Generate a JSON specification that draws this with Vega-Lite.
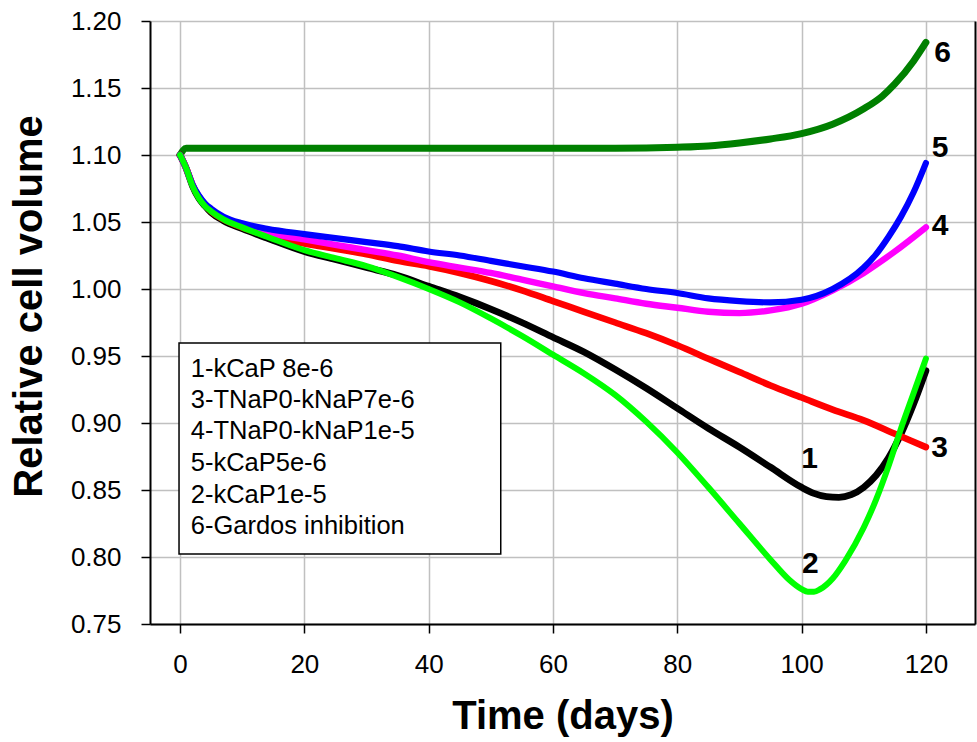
{
  "$schema": "https://vega.github.io/schema/vega-lite/v6.json",
  "width": 825,
  "height": 603,
  "autosize": {"type": "none"},
  "padding": {"left": 150, "top": 21, "right": 2, "bottom": 118},
  "background": "white",
  "config": {
    "view": {"stroke": null},
    "font": "Liberation Sans",
    "axis": {
      "labelFont": "Liberation Sans",
      "titleFont": "Liberation Sans",
      "labelColor": "#000",
      "titleColor": "#000",
      "labelFontSize": 26,
      "titleFontSize": 40,
      "titleFontWeight": "bold",
      "gridColor": "#c0c0c0",
      "gridWidth": 1.5,
      "domainColor": "#000",
      "domainWidth": 2,
      "tickColor": "#000",
      "tickWidth": 1.5,
      "tickSize": 9,
      "labelOverlap": false,
      "labelFlush": false
    }
  },
  "datasets": {
    "curves": [
      {"curve":"6","t":0,"v":1.100},{"curve":"6","t":1,"v":1.105},{"curve":"6","t":5,"v":1.105},{"curve":"6","t":20,"v":1.105},{"curve":"6","t":40,"v":1.105},{"curve":"6","t":60,"v":1.105},{"curve":"6","t":70,"v":1.105},{"curve":"6","t":80,"v":1.1058},{"curve":"6","t":85,"v":1.1068},{"curve":"6","t":90,"v":1.109},{"curve":"6","t":95,"v":1.112},{"curve":"6","t":100,"v":1.116},{"curve":"6","t":105,"v":1.123},{"curve":"6","t":110,"v":1.1345},{"curve":"6","t":113,"v":1.144},{"curve":"6","t":115,"v":1.153},{"curve":"6","t":118,"v":1.170},{"curve":"6","t":120,"v":1.184},

      {"curve":"1","t":0,"v":1.100},{"curve":"1","t":1,"v":1.090},{"curve":"1","t":2,"v":1.077},{"curve":"1","t":3,"v":1.068},{"curve":"1","t":4,"v":1.062},{"curve":"1","t":5,"v":1.057},{"curve":"1","t":7,"v":1.051},{"curve":"1","t":10,"v":1.045},{"curve":"1","t":14,"v":1.038},{"curve":"1","t":20,"v":1.028},{"curve":"1","t":25,"v":1.022},{"curve":"1","t":30,"v":1.016},{"curve":"1","t":35,"v":1.010},{"curve":"1","t":40,"v":1.002},{"curve":"1","t":45,"v":0.994},{"curve":"1","t":50,"v":0.985},{"curve":"1","t":55,"v":0.975},{"curve":"1","t":60,"v":0.964},{"curve":"1","t":65,"v":0.953},{"curve":"1","t":70,"v":0.940},{"curve":"1","t":75,"v":0.926},{"curve":"1","t":80,"v":0.911},{"curve":"1","t":85,"v":0.896},{"curve":"1","t":90,"v":0.882},{"curve":"1","t":95,"v":0.867},{"curve":"1","t":100,"v":0.852},{"curve":"1","t":102,"v":0.8475},{"curve":"1","t":104,"v":0.845},{"curve":"1","t":106,"v":0.8445},{"curve":"1","t":108,"v":0.8465},{"curve":"1","t":110,"v":0.852},{"curve":"1","t":112,"v":0.861},{"curve":"1","t":114,"v":0.874},{"curve":"1","t":116,"v":0.892},{"curve":"1","t":118,"v":0.914},{"curve":"1","t":120,"v":0.939},

      {"curve":"3","t":0,"v":1.100},{"curve":"3","t":1,"v":1.090},{"curve":"3","t":2,"v":1.078},{"curve":"3","t":3,"v":1.069},{"curve":"3","t":4,"v":1.063},{"curve":"3","t":5,"v":1.058},{"curve":"3","t":7,"v":1.052},{"curve":"3","t":10,"v":1.046},{"curve":"3","t":14,"v":1.040},{"curve":"3","t":20,"v":1.034},{"curve":"3","t":25,"v":1.030},{"curve":"3","t":30,"v":1.026},{"curve":"3","t":35,"v":1.021},{"curve":"3","t":40,"v":1.017},{"curve":"3","t":45,"v":1.012},{"curve":"3","t":50,"v":1.006},{"curve":"3","t":55,"v":0.999},{"curve":"3","t":60,"v":0.991},{"curve":"3","t":65,"v":0.983},{"curve":"3","t":70,"v":0.975},{"curve":"3","t":75,"v":0.967},{"curve":"3","t":80,"v":0.958},{"curve":"3","t":85,"v":0.948},{"curve":"3","t":90,"v":0.938},{"curve":"3","t":95,"v":0.928},{"curve":"3","t":100,"v":0.919},{"curve":"3","t":105,"v":0.910},{"curve":"3","t":110,"v":0.902},{"curve":"3","t":115,"v":0.892},{"curve":"3","t":120,"v":0.882},

      {"curve":"4","t":0,"v":1.100},{"curve":"4","t":1,"v":1.090},{"curve":"4","t":2,"v":1.078},{"curve":"4","t":3,"v":1.069},{"curve":"4","t":4,"v":1.063},{"curve":"4","t":5,"v":1.059},{"curve":"4","t":7,"v":1.053},{"curve":"4","t":10,"v":1.047},{"curve":"4","t":14,"v":1.042},{"curve":"4","t":20,"v":1.037},{"curve":"4","t":25,"v":1.033},{"curve":"4","t":30,"v":1.029},{"curve":"4","t":35,"v":1.025},{"curve":"4","t":40,"v":1.020},{"curve":"4","t":45,"v":1.016},{"curve":"4","t":50,"v":1.012},{"curve":"4","t":55,"v":1.007},{"curve":"4","t":60,"v":1.002},{"curve":"4","t":65,"v":0.997},{"curve":"4","t":70,"v":0.993},{"curve":"4","t":75,"v":0.989},{"curve":"4","t":80,"v":0.986},{"curve":"4","t":85,"v":0.983},{"curve":"4","t":90,"v":0.982},{"curve":"4","t":95,"v":0.984},{"curve":"4","t":100,"v":0.989},{"curve":"4","t":105,"v":0.999},{"curve":"4","t":110,"v":1.012},{"curve":"4","t":115,"v":1.028},{"curve":"4","t":120,"v":1.046},

      {"curve":"5","t":0,"v":1.100},{"curve":"5","t":1,"v":1.090},{"curve":"5","t":2,"v":1.078},{"curve":"5","t":3,"v":1.070},{"curve":"5","t":4,"v":1.064},{"curve":"5","t":5,"v":1.060},{"curve":"5","t":7,"v":1.054},{"curve":"5","t":10,"v":1.049},{"curve":"5","t":14,"v":1.045},{"curve":"5","t":20,"v":1.041},{"curve":"5","t":25,"v":1.038},{"curve":"5","t":30,"v":1.035},{"curve":"5","t":35,"v":1.032},{"curve":"5","t":40,"v":1.028},{"curve":"5","t":45,"v":1.025},{"curve":"5","t":50,"v":1.021},{"curve":"5","t":55,"v":1.017},{"curve":"5","t":60,"v":1.013},{"curve":"5","t":65,"v":1.008},{"curve":"5","t":70,"v":1.004},{"curve":"5","t":75,"v":1.000},{"curve":"5","t":80,"v":0.997},{"curve":"5","t":85,"v":0.993},{"curve":"5","t":90,"v":0.991},{"curve":"5","t":95,"v":0.990},{"curve":"5","t":100,"v":0.992},{"curve":"5","t":105,"v":1.000},{"curve":"5","t":110,"v":1.016},{"curve":"5","t":112,"v":1.026},{"curve":"5","t":114,"v":1.039},{"curve":"5","t":116,"v":1.054},{"curve":"5","t":118,"v":1.072},{"curve":"5","t":120,"v":1.094},

      {"curve":"2","t":0,"v":1.100},{"curve":"2","t":1,"v":1.090},{"curve":"2","t":2,"v":1.077},{"curve":"2","t":3,"v":1.068},{"curve":"2","t":4,"v":1.062},{"curve":"2","t":5,"v":1.058},{"curve":"2","t":7,"v":1.052},{"curve":"2","t":10,"v":1.046},{"curve":"2","t":14,"v":1.039},{"curve":"2","t":20,"v":1.029},{"curve":"2","t":25,"v":1.023},{"curve":"2","t":30,"v":1.017},{"curve":"2","t":35,"v":1.009},{"curve":"2","t":40,"v":1.000},{"curve":"2","t":45,"v":0.990},{"curve":"2","t":50,"v":0.978},{"curve":"2","t":55,"v":0.965},{"curve":"2","t":60,"v":0.951},{"curve":"2","t":65,"v":0.937},{"curve":"2","t":70,"v":0.921},{"curve":"2","t":75,"v":0.901},{"curve":"2","t":80,"v":0.878},{"curve":"2","t":85,"v":0.852},{"curve":"2","t":90,"v":0.825},{"curve":"2","t":95,"v":0.798},{"curve":"2","t":98,"v":0.783},{"curve":"2","t":100,"v":0.776},{"curve":"2","t":101,"v":0.774},{"curve":"2","t":102,"v":0.774},{"curve":"2","t":103,"v":0.776},{"curve":"2","t":105,"v":0.784},{"curve":"2","t":107,"v":0.797},{"curve":"2","t":110,"v":0.822},{"curve":"2","t":112,"v":0.843},{"curve":"2","t":114,"v":0.868},{"curve":"2","t":116,"v":0.896},{"curve":"2","t":118,"v":0.922},{"curve":"2","t":120,"v":0.948}
    ],
    "curveLabels": [
      {"label":"1","t":101.3,"v":0.8664},
      {"label":"2","t":101.4,"v":0.788},
      {"label":"3","t":122.2,"v":0.8746},
      {"label":"4","t":122.3,"v":1.0403},
      {"label":"5","t":122.3,"v":1.0985},
      {"label":"6","t":122.7,"v":1.1694}
    ],
    "legendBox": [
      {"t1":-0.16,"t2":51.6,"v1":0.8022,"v2":0.9597}
    ],
    "legendText": [
      {"text":"1-kCaP 8e-6","t":1.72,"v":0.9346},
      {"text":"3-TNaP0-kNaP7e-6","t":1.72,"v":0.9110},
      {"text":"4-TNaP0-kNaP1e-5","t":1.72,"v":0.8878},
      {"text":"5-kCaP5e-6","t":1.72,"v":0.8640},
      {"text":"2-kCaP1e-5","t":1.72,"v":0.8405},
      {"text":"6-Gardos inhibition","t":1.72,"v":0.8172}
    ]
  },
  "resolve": {"axis": {"y": "independent"}},
  "layer": [
    {
      "data": {"name": "curves"},
      "mark": {"type": "line", "interpolate": "monotone", "strokeCap": "round", "strokeJoin": "round"},
      "encoding": {
        "x": {
          "field": "t", "type": "quantitative",
          "scale": {"domain": [-4.83, 127.9], "nice": false, "zero": false},
          "axis": {"values": [0, 20, 40, 60, 80, 100, 120], "grid": true, "labelPadding": 18, "title": "Time (days)", "titleBaseline": "alphabetic", "titleY": 104}
        },
        "y": {
          "field": "v", "type": "quantitative",
          "scale": {"domain": [0.75, 1.2], "nice": false, "zero": false},
          "axis": {
            "orient": "left",
            "values": [0.75, 0.8, 0.85, 0.9, 0.95, 1.0, 1.05, 1.1, 1.15, 1.2],
            "format": ".2f",
            "grid": true,
            "labelPadding": 20,
            "title": "Relative cell volume",
            "titleAngle": 270,
            "titleAlign": "center",
            "titleBaseline": "alphabetic",
            "titleX": -109,
            "titleY": 285
          }
        },
        "color": {
          "field": "curve", "type": "nominal",
          "scale": {"domain": ["6", "1", "3", "4", "5", "2"], "range": ["#008000", "#000000", "#ff0000", "#ff00ff", "#0000ff", "#00ff00"]},
          "legend": null
        },
        "strokeWidth": {
          "field": "curve", "type": "nominal",
          "scale": {"domain": ["6", "1", "3", "4", "5", "2"], "range": [7, 6, 3.8, 3.8, 3.8, 3.8]},
          "legend": null
        }
      }
    },
    {
      "data": {"name": "legendBox"},
      "mark": {"type": "rect", "fill": "white", "stroke": "#000", "strokeWidth": 1.5},
      "encoding": {
        "x": {"field": "t1", "type": "quantitative", "scale": {"domain": [-4.83, 127.9], "nice": false, "zero": false},
          "axis": {"values": [0, 20, 40, 60, 80, 100, 120], "grid": true, "labelPadding": 18, "title": "Time (days)", "titleBaseline": "alphabetic", "titleY": 104}},
        "x2": {"field": "t2"},
        "y": {"field": "v1", "type": "quantitative", "scale": {"domain": [0.75, 1.2], "nice": false, "zero": false}, "axis": null},
        "y2": {"field": "v2"}
      }
    },
    {
      "data": {"name": "legendText"},
      "mark": {"type": "text", "align": "left", "baseline": "alphabetic", "font": "Liberation Sans", "fontSize": 25.5, "color": "#000"},
      "encoding": {
        "x": {"field": "t", "type": "quantitative", "scale": {"domain": [-4.83, 127.9], "nice": false, "zero": false},
          "axis": {"values": [0, 20, 40, 60, 80, 100, 120], "grid": true, "labelPadding": 18, "title": "Time (days)", "titleBaseline": "alphabetic", "titleY": 104}},
        "y": {"field": "v", "type": "quantitative", "scale": {"domain": [0.75, 1.2], "nice": false, "zero": false}, "axis": null},
        "text": {"field": "text", "type": "nominal"}
      }
    },
    {
      "data": {"name": "curveLabels"},
      "mark": {"type": "text", "align": "center", "baseline": "alphabetic", "font": "Liberation Sans", "fontSize": 30, "fontWeight": "bold", "color": "#000"},
      "encoding": {
        "x": {"field": "t", "type": "quantitative", "scale": {"domain": [-4.83, 127.9], "nice": false, "zero": false},
          "axis": {"values": [0, 20, 40, 60, 80, 100, 120], "grid": true, "labelPadding": 18, "title": "Time (days)", "titleBaseline": "alphabetic", "titleY": 104}},
        "y": {
          "field": "v", "type": "quantitative",
          "scale": {"domain": [0.75, 1.2], "nice": false, "zero": false},
          "axis": {"orient": "right", "labels": false, "ticks": false, "grid": false, "title": null, "domain": true}
        },
        "text": {"field": "label", "type": "nominal"}
      }
    }
  ]
}
